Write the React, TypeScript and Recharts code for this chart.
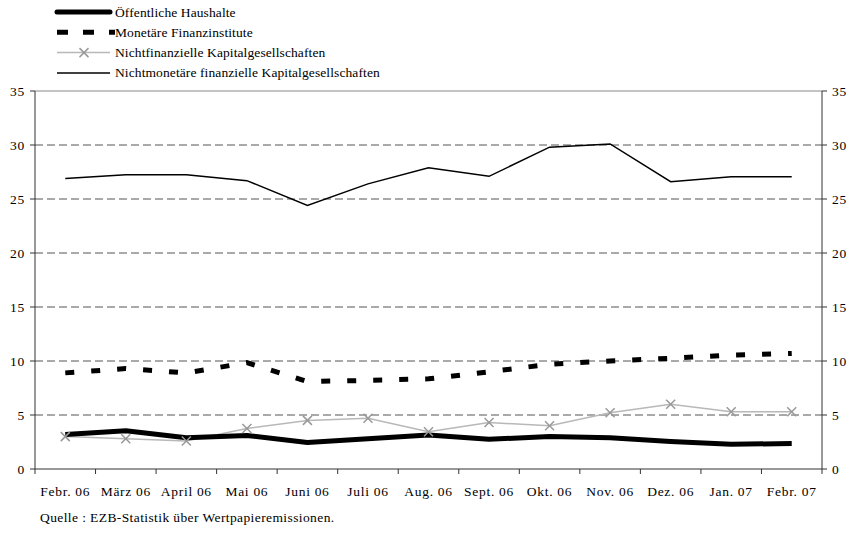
import React from "react";
import { LineChart, Line, XAxis, YAxis, ReferenceLine } from "recharts";

const months = [
  "Febr. 06", "März 06", "April 06", "Mai 06", "Juni 06", "Juli 06", "Aug. 06",
  "Sept. 06", "Okt. 06", "Nov. 06", "Dez. 06", "Jan. 07", "Febr. 07",
];
const oeffentlicheHaushalte = [3.2, 3.55, 2.9, 3.1, 2.45, 2.8, 3.15, 2.75, 3.0, 2.9, 2.55, 2.3, 2.35];
const monetaereFinanzinstitute = [8.9, 9.3, 8.9, 9.85, 8.1, 8.2, 8.35, 9.0, 9.7, 10.0, 10.25, 10.55, 10.7];
const nichtfinanzielle = [3.0, 2.8, 2.6, 3.75, 4.5, 4.7, 3.45, 4.3, 4.0, 5.2, 6.0, 5.3, 5.3];
const nichtmonetaere = [26.9, 27.25, 27.25, 26.7, 24.4, 26.4, 27.9, 27.1, 29.8, 30.1, 26.6, 27.05, 27.05];
const yTicks = [0, 5, 10, 15, 20, 25, 30, 35];

const data = months.map((m, i) => ({
  month: m,
  oeff: oeffentlicheHaushalte[i],
  mfi: monetaereFinanzinstitute[i],
  nfk: nichtfinanzielle[i],
  nmk: nichtmonetaere[i],
}));

const FONT = "Liberation Serif";
const W = 850;
const H = 535;
const LEFT = 35;
const RIGHT = 28;
const STEP = (W - LEFT - RIGHT) / months.length;
const tickFont = { fontSize: 13.5, fontFamily: FONT, fill: "#000", letterSpacing: 0.7 };

// category labels, with tick marks on the band edges
const MonthTick = (props: any) => {
  const { x, y, payload, index } = props;
  const last = index === months.length - 1;
  return (
    <g>
      <line x1={x - STEP / 2} y1={y - 5} x2={x - STEP / 2} y2={y} stroke="#333" />
      {last && <line x1={x + STEP / 2} y1={y - 5} x2={x + STEP / 2} y2={y} stroke="#333" />}
      <text x={x} y={y + 22} textAnchor="middle" fontSize={13.5} fontFamily={FONT} letterSpacing={0.7} fill="#000">
        {payload.value}
      </text>
    </g>
  );
};

const CrossDot = (props: any) => {
  const { cx, cy } = props;
  if (cx == null || cy == null) return null;
  const r = 4.5;
  return (
    <g stroke="#999" strokeWidth={1.5}>
      <line x1={cx - r} y1={cy - r} x2={cx + r} y2={cy + r} />
      <line x1={cx - r} y1={cy + r} x2={cx + r} y2={cy - r} />
    </g>
  );
};

const LEGEND_ROWS = [
  { key: "oeff", label: "Öffentliche Haushalte" },
  { key: "mfi", label: "Monetäre Finanzinstitute" },
  { key: "nfk", label: "Nichtfinanzielle Kapitalgesellschaften" },
  { key: "nmk", label: "Nichtmonetäre finanzielle Kapitalgesellschaften" },
];

const ChartLegend = () => (
  <svg width={420} height={85} style={{ position: "absolute", left: 0, top: 0 }}>
    {LEGEND_ROWS.map((row, i) => {
      const cy = 12 + i * 20.3;
      let mark: React.ReactNode = null;
      if (row.key === "oeff") {
        mark = <line x1={57} y1={cy} x2={110} y2={cy} stroke="#000" strokeWidth={5} strokeLinecap="round" />;
      } else if (row.key === "mfi") {
        mark = <line x1={57} y1={cy} x2={115} y2={cy} stroke="#000" strokeWidth={5} strokeDasharray="11 15" />;
      } else if (row.key === "nfk") {
        mark = (
          <g>
            <line x1={57} y1={cy} x2={110} y2={cy} stroke="#b8b8b8" strokeWidth={1.5} />
            <CrossDot cx={84} cy={cy} />
          </g>
        );
      } else {
        mark = <line x1={57} y1={cy} x2={110} y2={cy} stroke="#000" strokeWidth={1.5} />;
      }
      return (
        <g key={row.key}>
          {mark}
          <text x={115} y={cy + 4.5} fontSize={13.5} fontFamily={FONT} letterSpacing={0.1} fill="#000">
            {row.label}
          </text>
        </g>
      );
    })}
  </svg>
);

export default function App() {
  return (
    <div style={{ position: "absolute", left: 0, top: 0, width: W, height: H, background: "#fff", fontFamily: FONT }}>
      <LineChart width={W} height={H} data={data} margin={{ top: 91, right: 0, bottom: 36, left: 0 }}>
        <XAxis
          dataKey="month"
          scale="band"
          height={30}
          interval={0}
          tickLine={false}
          tickSize={5}
          tickMargin={0}
          tick={<MonthTick />}
          axisLine={{ stroke: "#333" }}
        />
        <YAxis
          yAxisId="left"
          width={LEFT}
          domain={[0, 35]}
          ticks={yTicks}
          tickSize={5}
          tickMargin={5}
          axisLine={{ stroke: "#333" }}
          tickLine={{ stroke: "#333" }}
          tick={tickFont}
        />
        <YAxis
          yAxisId="right"
          orientation="right"
          width={RIGHT}
          domain={[0, 35]}
          ticks={yTicks}
          tickSize={5}
          tickMargin={5}
          axisLine={{ stroke: "#333" }}
          tickLine={{ stroke: "#333" }}
          tick={tickFont}
        />
        {/* dashed grid on the inner ticks, solid grey top edge */}
        {yTicks
          .filter((v) => v > 0 && v < 35)
          .map((v) => (
            <ReferenceLine key={v} yAxisId="left" y={v} stroke="#555" strokeDasharray="8 4" />
          ))}
        <ReferenceLine yAxisId="left" y={35} stroke="#888" />
        <Line
          yAxisId="right"
          dataKey="nmk"
          name="Nichtmonetäre finanzielle Kapitalgesellschaften"
          stroke="#000"
          strokeWidth={1.5}
          dot={false}
          isAnimationActive={false}
        />
        <Line
          yAxisId="left"
          dataKey="mfi"
          name="Monetäre Finanzinstitute"
          stroke="#000"
          strokeWidth={5}
          strokeDasharray="9 17"
          dot={false}
          isAnimationActive={false}
        />
        <Line
          yAxisId="left"
          dataKey="nfk"
          name="Nichtfinanzielle Kapitalgesellschaften"
          stroke="#b8b8b8"
          strokeWidth={1.5}
          dot={<CrossDot />}
          isAnimationActive={false}
        />
        <Line
          yAxisId="left"
          dataKey="oeff"
          name="Öffentliche Haushalte"
          stroke="#000"
          strokeWidth={5}
          strokeLinejoin="round"
          dot={false}
          isAnimationActive={false}
        />
      </LineChart>
      <ChartLegend />
      <div style={{ position: "absolute", left: 40, top: 510, fontSize: 13.5, letterSpacing: 0.4, lineHeight: "16px", color: "#000" }}>
        Quelle : EZB-Statistik über Wertpapieremissionen.
      </div>
    </div>
  );
}
